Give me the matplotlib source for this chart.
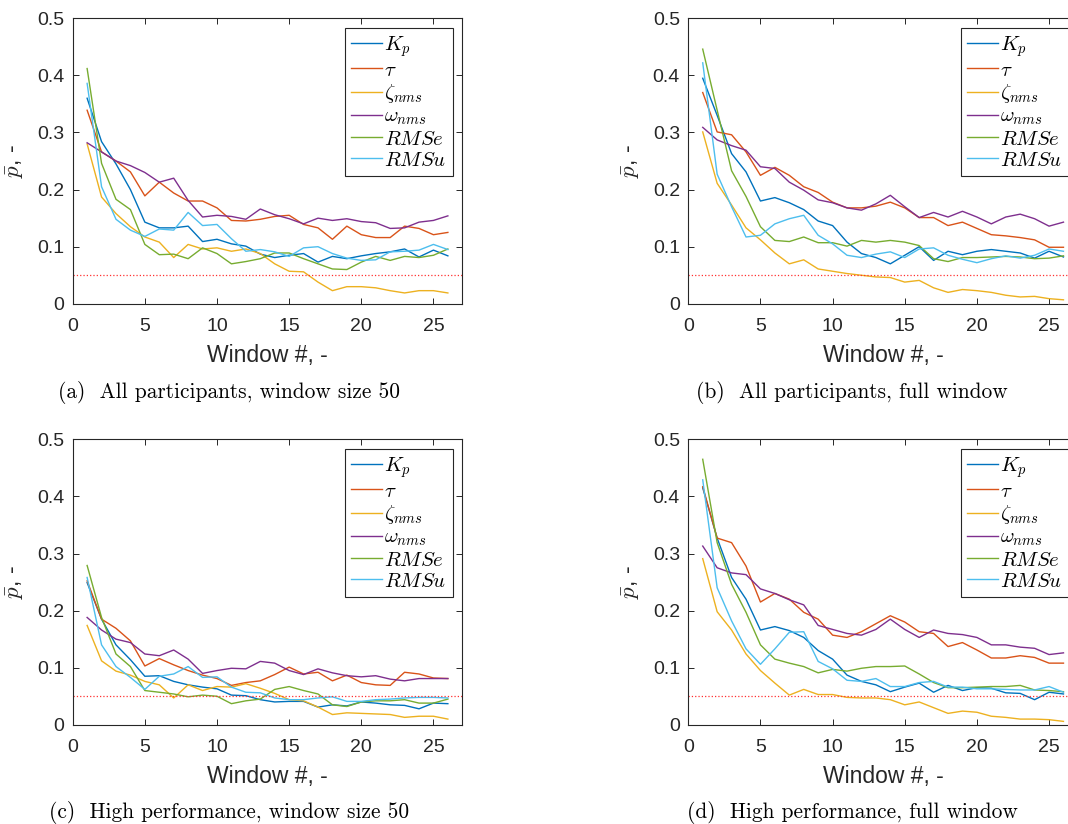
import matplotlib.pyplot as plt

plt.rcParams['mathtext.fontset'] = 'cm'
plt.rcParams['font.family'] = ['Liberation Sans', 'DejaVu Sans']

windows = list(range(1, 27))
etiquetas = [r'$K_p$', r'$\tau$', r'$\zeta_{nms}$', r'$\omega_{nms}$', r'$RMSe$', r'$RMSu$']
colores = ['#0072BD', '#D95319', '#EDB120', '#7E2F8E', '#77AC30', '#4DBEEE']
umbral = 0.05

# (a) All participants, window size 50
kp_a = [0.36, 0.284, 0.245, 0.20, 0.143, 0.133, 0.133, 0.136, 0.109, 0.113, 0.105, 0.101, 0.087,
        0.081, 0.085, 0.088, 0.073, 0.083, 0.079, 0.084, 0.088, 0.091, 0.096, 0.082, 0.094, 0.084]
tau_a = [0.339, 0.266, 0.25, 0.231, 0.189, 0.213, 0.194, 0.18, 0.18, 0.168, 0.146, 0.145, 0.148,
         0.153, 0.155, 0.139, 0.133, 0.113, 0.136, 0.121, 0.116, 0.116, 0.136, 0.132, 0.121, 0.125]
zeta_a = [0.28, 0.187, 0.158, 0.135, 0.117, 0.108, 0.081, 0.104, 0.096, 0.098, 0.092, 0.096, 0.088,
          0.070, 0.057, 0.056, 0.038, 0.023, 0.030, 0.030, 0.028, 0.023, 0.019, 0.023, 0.023, 0.019]
omega_a = [0.282, 0.266, 0.25, 0.242, 0.23, 0.213, 0.22, 0.181, 0.152, 0.155, 0.153, 0.148, 0.166,
           0.156, 0.149, 0.140, 0.150, 0.146, 0.149, 0.144, 0.142, 0.132, 0.133, 0.143, 0.146, 0.154]
rmse_a = [0.412, 0.246, 0.183, 0.165, 0.104, 0.086, 0.087, 0.079, 0.098, 0.088, 0.07, 0.074, 0.079,
          0.089, 0.089, 0.079, 0.07, 0.061, 0.06, 0.073, 0.083, 0.076, 0.083, 0.081, 0.085, 0.096]
rmsu_a = [0.386, 0.205, 0.148, 0.129, 0.118, 0.131, 0.129, 0.16, 0.137, 0.139, 0.114, 0.092, 0.095,
          0.091, 0.083, 0.098, 0.1, 0.088, 0.08, 0.076, 0.077, 0.091, 0.092, 0.094, 0.104, 0.095]

# (b) All participants, full window
kp_b = [0.395, 0.33, 0.263, 0.231, 0.18, 0.186, 0.177, 0.165, 0.145, 0.137, 0.108, 0.088, 0.081,
        0.07, 0.085, 0.1, 0.076, 0.092, 0.086, 0.092, 0.095, 0.092, 0.089, 0.08, 0.092, 0.082]
tau_b = [0.37, 0.301, 0.296, 0.266, 0.225, 0.239, 0.225, 0.205, 0.195, 0.178, 0.168, 0.168, 0.171,
         0.178, 0.168, 0.151, 0.151, 0.137, 0.143, 0.132, 0.121, 0.119, 0.116, 0.112, 0.099, 0.099]
zeta_b = [0.301, 0.211, 0.173, 0.133, 0.112, 0.089, 0.07, 0.077, 0.061, 0.057, 0.053, 0.05, 0.047,
          0.046, 0.038, 0.041, 0.028, 0.02, 0.025, 0.023, 0.02, 0.015, 0.012, 0.013, 0.009, 0.007]
omega_b = [0.309, 0.287, 0.277, 0.269, 0.24, 0.237, 0.213, 0.199, 0.182, 0.177, 0.168, 0.164, 0.175,
           0.19, 0.17, 0.151, 0.16, 0.152, 0.162, 0.152, 0.14, 0.152, 0.157, 0.149, 0.136, 0.143]
rmse_b = [0.446, 0.339, 0.233, 0.188, 0.135, 0.111, 0.109, 0.117, 0.107, 0.107, 0.101, 0.111, 0.108,
          0.111, 0.108, 0.102, 0.079, 0.074, 0.081, 0.081, 0.082, 0.083, 0.082, 0.079, 0.08, 0.084]
rmsu_b = [0.422, 0.227, 0.17, 0.117, 0.12, 0.14, 0.149, 0.155, 0.12, 0.105, 0.085, 0.081, 0.087,
          0.091, 0.081, 0.096, 0.098, 0.085, 0.078, 0.072, 0.079, 0.084, 0.08, 0.085, 0.096, 0.092]

# (c) High performance, window size 50
kp_c = [0.249, 0.185, 0.14, 0.114, 0.085, 0.086, 0.076, 0.07, 0.066, 0.063, 0.052, 0.051, 0.044,
        0.04, 0.041, 0.041, 0.031, 0.035, 0.033, 0.04, 0.038, 0.035, 0.034, 0.028, 0.038, 0.037]
tau_c = [0.252, 0.185, 0.169, 0.147, 0.103, 0.116, 0.105, 0.095, 0.087, 0.081, 0.069, 0.074, 0.077,
         0.088, 0.101, 0.089, 0.092, 0.077, 0.087, 0.074, 0.07, 0.069, 0.092, 0.089, 0.082, 0.081]
zeta_c = [0.174, 0.112, 0.094, 0.087, 0.076, 0.07, 0.047, 0.07, 0.06, 0.067, 0.066, 0.072, 0.064,
          0.055, 0.044, 0.042, 0.031, 0.018, 0.021, 0.02, 0.019, 0.018, 0.013, 0.015, 0.015, 0.01]
omega_c = [0.188, 0.166, 0.15, 0.144, 0.124, 0.121, 0.131, 0.115, 0.09, 0.095, 0.099, 0.098, 0.111,
           0.108, 0.095, 0.088, 0.098, 0.091, 0.086, 0.084, 0.086, 0.08, 0.077, 0.081, 0.081, 0.081]
rmse_c = [0.279, 0.188, 0.124, 0.102, 0.06, 0.057, 0.054, 0.049, 0.052, 0.05, 0.037, 0.042, 0.045,
          0.062, 0.067, 0.06, 0.054, 0.035, 0.032, 0.04, 0.042, 0.042, 0.044, 0.038, 0.038, 0.045]
rmsu_c = [0.258, 0.14, 0.102, 0.083, 0.062, 0.085, 0.089, 0.102, 0.083, 0.084, 0.066, 0.057, 0.056,
          0.047, 0.044, 0.044, 0.047, 0.049, 0.041, 0.041, 0.044, 0.045, 0.047, 0.048, 0.048, 0.047]

# (d) High performance, full window
kp_d = [0.415, 0.327, 0.258, 0.22, 0.166, 0.172, 0.165, 0.153, 0.13, 0.115, 0.087, 0.076, 0.07,
        0.058, 0.066, 0.073, 0.057, 0.069, 0.06, 0.065, 0.064, 0.056, 0.055, 0.044, 0.057, 0.054]
tau_d = [0.417, 0.327, 0.319, 0.278, 0.215, 0.23, 0.22, 0.197, 0.185, 0.157, 0.153, 0.163, 0.177,
         0.191, 0.18, 0.163, 0.16, 0.137, 0.144, 0.131, 0.117, 0.117, 0.121, 0.118, 0.108, 0.108]
zeta_d = [0.291, 0.198, 0.166, 0.124, 0.095, 0.073, 0.052, 0.062, 0.053, 0.053, 0.048, 0.047, 0.047,
          0.044, 0.035, 0.04, 0.03, 0.02, 0.024, 0.022, 0.015, 0.013, 0.01, 0.01, 0.009, 0.006]
omega_d = [0.313, 0.275, 0.266, 0.263, 0.238, 0.23, 0.219, 0.21, 0.174, 0.167, 0.16, 0.157, 0.167,
           0.185, 0.167, 0.153, 0.166, 0.16, 0.158, 0.153, 0.14, 0.14, 0.136, 0.134, 0.123, 0.126]
rmse_d = [0.465, 0.319, 0.246, 0.197, 0.14, 0.115, 0.108, 0.102, 0.091, 0.097, 0.094, 0.099, 0.102,
          0.102, 0.103, 0.089, 0.074, 0.065, 0.065, 0.066, 0.067, 0.067, 0.069, 0.061, 0.06, 0.058]
rmsu_d = [0.429, 0.24, 0.182, 0.133, 0.106, 0.133, 0.162, 0.163, 0.111, 0.098, 0.078, 0.076, 0.081,
          0.067, 0.067, 0.074, 0.076, 0.066, 0.066, 0.063, 0.063, 0.062, 0.061, 0.061, 0.067, 0.057]

paneles = [
    ([kp_a, tau_a, zeta_a, omega_a, rmse_a, rmsu_a], '(a)  All participants, window size 50'),
    ([kp_b, tau_b, zeta_b, omega_b, rmse_b, rmsu_b], '(b)  All participants, full window'),
    ([kp_c, tau_c, zeta_c, omega_c, rmse_c, rmsu_c], '(c)  High performance, window size 50'),
    ([kp_d, tau_d, zeta_d, omega_d, rmse_d, rmsu_d], '(d)  High performance, full window'),
]

W, H = 1068, 824
fig = plt.figure(figsize=(W / 100, H / 100), dpi=100)

# posiciones en pixeles: (izquierda, arriba) de cada eje, y centro del pie
lefts = [72.7, 688.3, 72.7, 688.3]
tops = [18.3, 18.3, 439.3, 439.3]
ancho, alto = 389.6, 285.5
pies = [(229, 392), (852, 392), (229, 813), (852, 813)]
gris = '#262626'

for i, (series, pie) in enumerate(paneles):
    ax = fig.add_axes([lefts[i] / W, 1 - (tops[i] + alto) / H, ancho / W, alto / H])
    for datos, lab, col in zip(series, etiquetas, colores):
        ax.plot(windows, datos, color=col, lw=1.0, label=lab)
    ax.axhline(umbral, color='#FF3030', ls=':', lw=0.9)
    ax.set_xlim(0, 27)
    ax.set_ylim(0, 0.5)
    ax.set_xticks([0, 5, 10, 15, 20, 25])
    ax.set_yticks([0, 0.1, 0.2, 0.3, 0.4, 0.5])
    ax.set_yticklabels(['0', '0.1', '0.2', '0.3', '0.4', '0.5'])
    ax.tick_params(direction='in', top=True, right=True, length=4, width=0.7,
                   labelsize=14, colors=gris, labelcolor=gris)
    ax.tick_params(axis='x', pad=10)
    ax.tick_params(axis='y', pad=6)
    for s in ax.spines.values():
        s.set_color(gris)
        s.set_linewidth(0.8)
    ax.set_xlabel('Window #, -', fontsize=16.5, color=gris, labelpad=7)
    ax.set_ylabel(r'$\bar{p}$, -', fontsize=16.5, color=gris, labelpad=8)
    leg = ax.legend(loc='upper right', fontsize=15, fancybox=False, framealpha=1,
                    edgecolor=gris, handlelength=1.5, handletextpad=0.1,
                    labelspacing=0.1, borderpad=0.3, borderaxespad=0.45)
    leg.get_frame().set_linewidth(0.8)
    fig.text(pies[i][0] / W, 1 - pies[i][1] / H, pie, ha='center', va='center',
             fontsize=15.4, family=['cmr10', 'DejaVu Serif'])

fig.savefig('out.png', dpi=100)
